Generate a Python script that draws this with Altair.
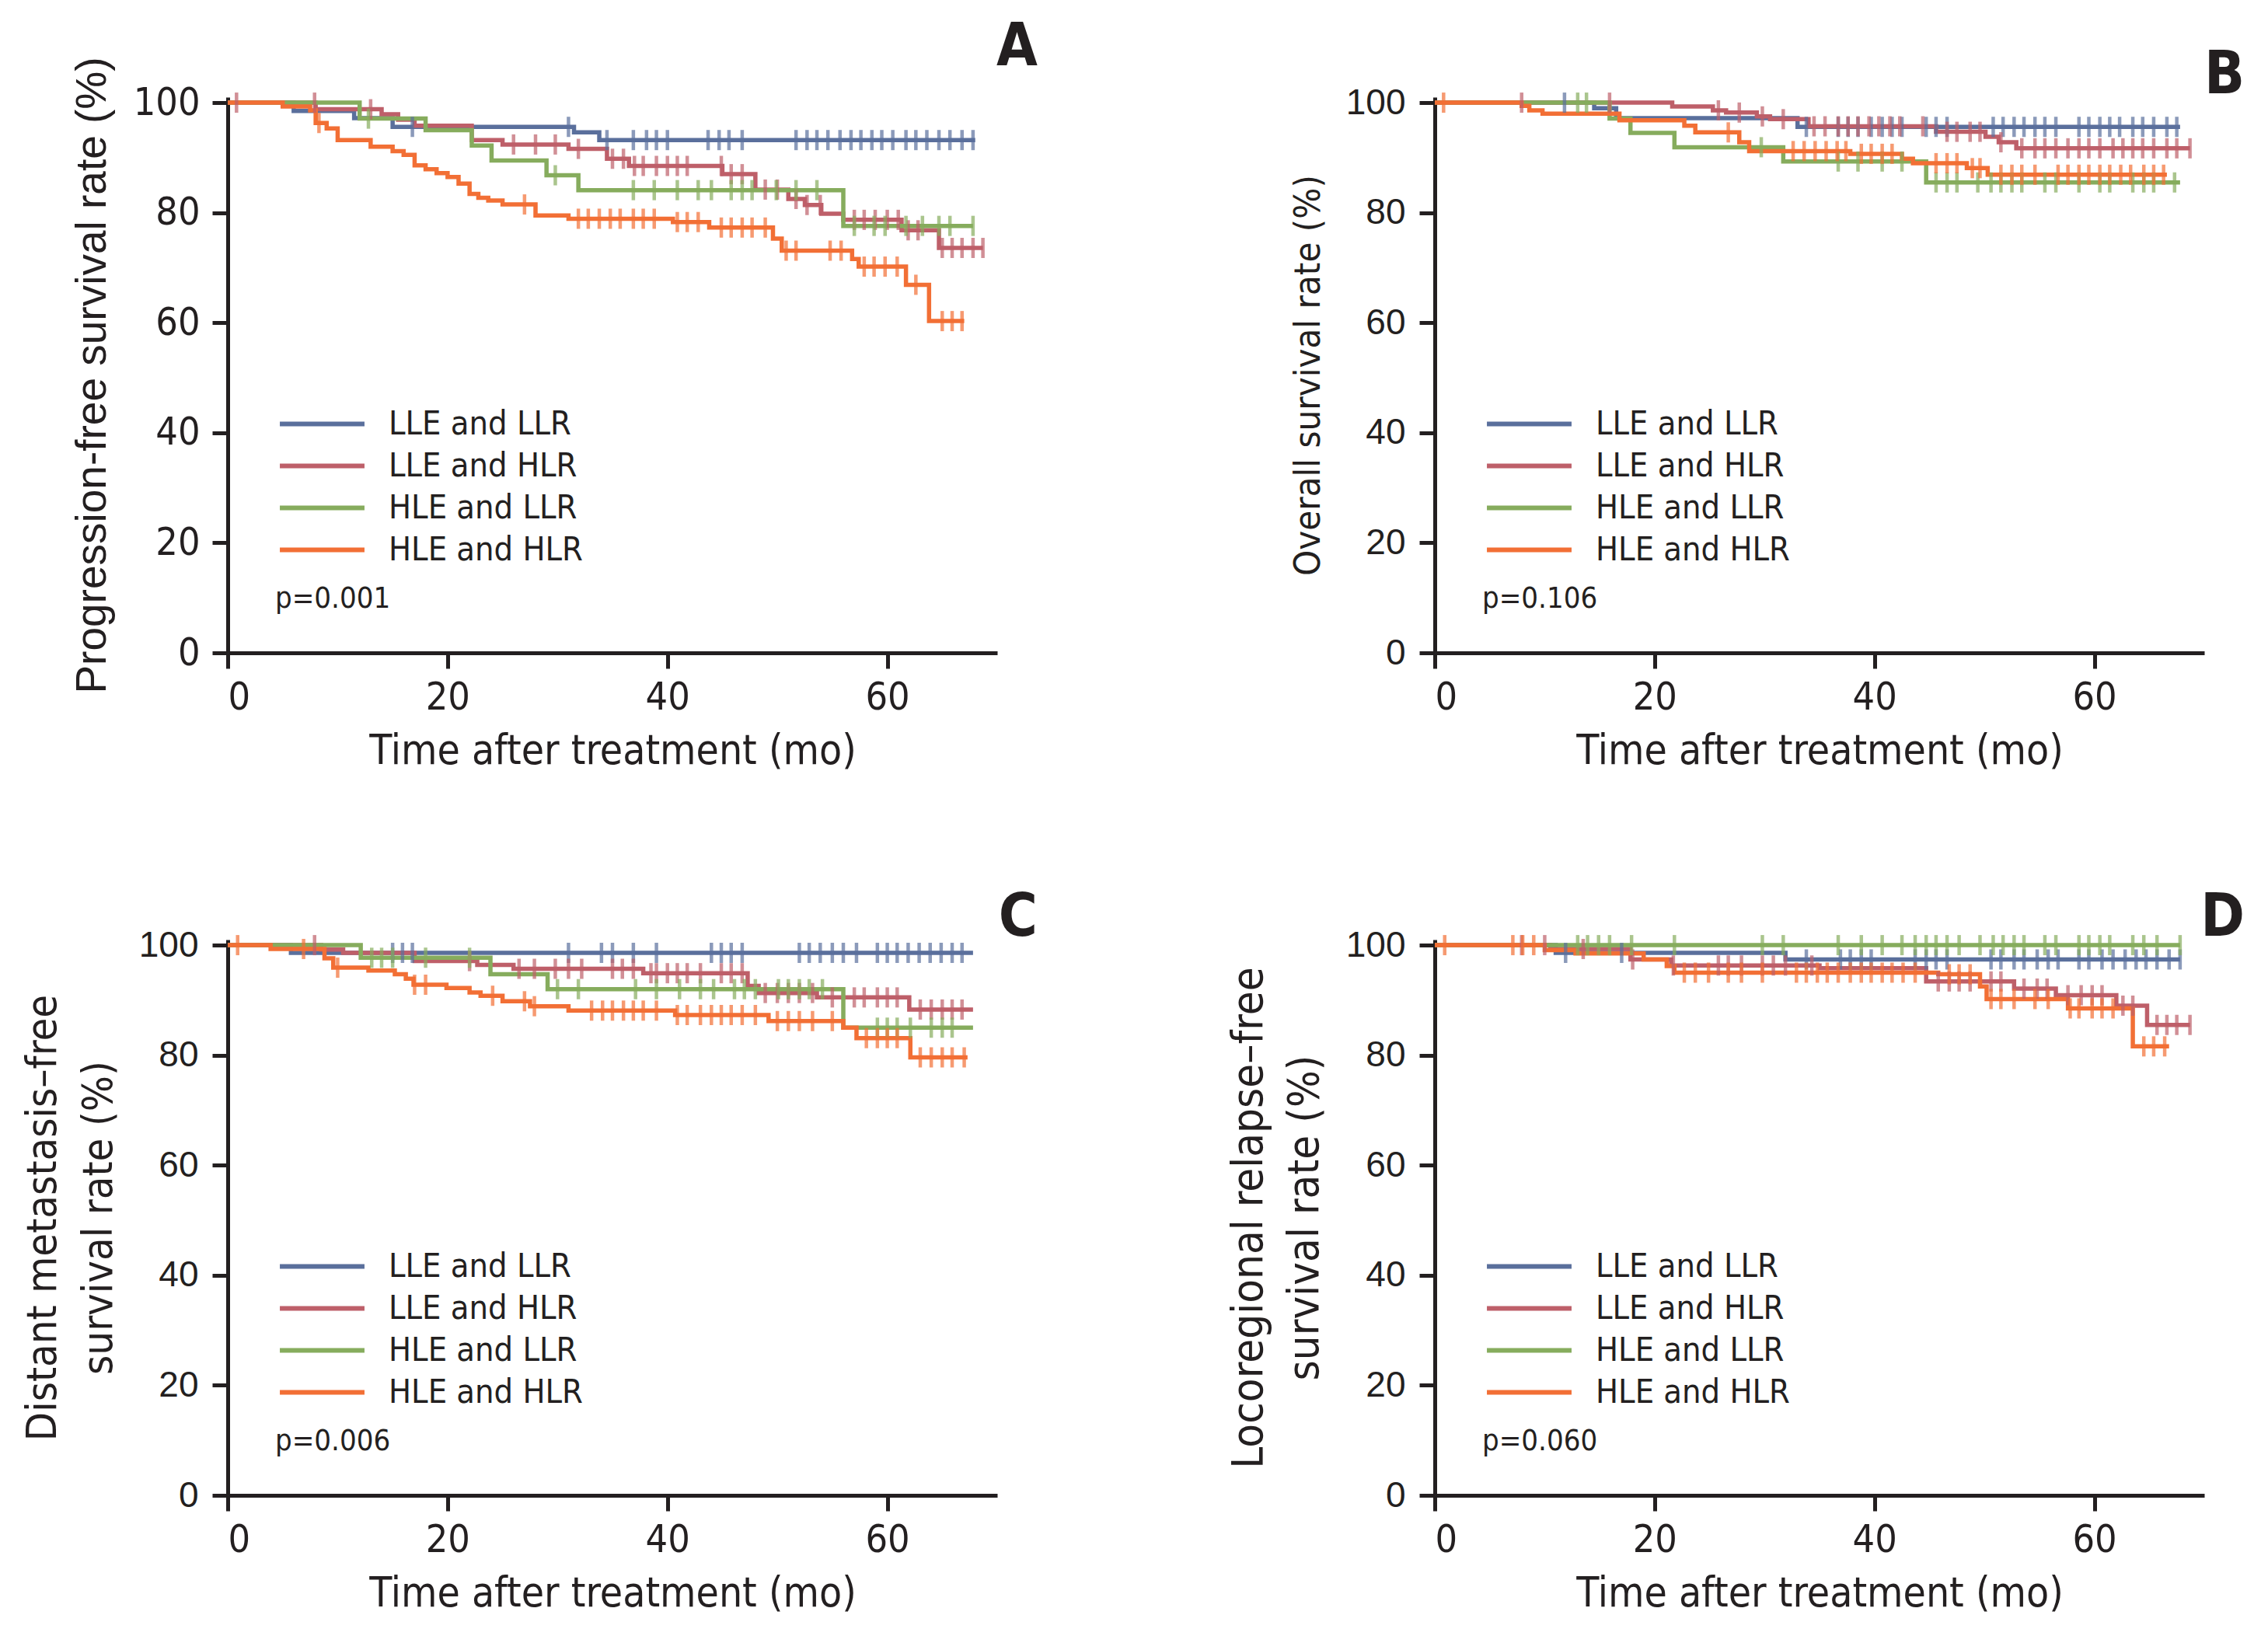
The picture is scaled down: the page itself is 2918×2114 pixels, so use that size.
import altair as alt
import numpy as np
import pandas as pd

GROUPS = ["LLE and LLR", "LLE and HLR", "HLE and LLR", "HLE and HLR"]
COLORS = ["#5A6F9C", "#BE5F69", "#86AC5D", "#F26F35"]

# ---------------- Panel A : progression-free survival ----------------
A_blue_t = [0, 6, 11.5, 15, 31.5, 33.8, 68]
A_blue_s = [100, 98.5, 97.2, 95.6, 94.6, 93.2, 93.2]
A_blue_c = [16.8, 31, 34.5, 36.9, 38.1, 39.0, 40.0, 43.7, 44.7, 45.6, 46.8, 51.7, 52.7, 53.6, 54.6,
            55.7, 56.7, 57.6, 58.6, 59.5, 60.5, 61.7, 62.6, 63.6, 64.7, 65.7, 66.8, 67.8]
A_red_t = [0, 8, 14, 15.5, 17, 22.2, 25, 31, 34.5, 36.5, 45, 48, 51, 52.5, 54, 56, 61.3, 64.7, 68.7]
A_red_s = [100, 98.8, 97.9, 96.9, 95.8, 93.2, 92.4, 91.6, 89.8, 88.5, 87.0, 84.2, 82.5, 81.4, 79.8,
           78.7, 76.8, 73.6, 73.6]
A_red_c = [0.8, 7.9, 13, 26, 28, 29.8, 31.9, 35, 36, 37, 37.8, 39, 40, 40.9, 41.8, 44.9, 45.8, 46.8,
           48.9, 50, 51.7, 52.7, 53.9, 57, 57.9, 58.9, 60, 61, 61.9, 62.8, 65, 65.9, 66.8, 67.8, 68.7]
A_green_t = [0, 12, 18, 22.2, 24, 29, 31.9, 56, 67.8]
A_green_s = [100, 97.1, 95.0, 92.2, 89.5, 86.8, 84.1, 77.6, 77.6]
A_green_c = [12.8, 29.8, 36.9, 38.8, 40.9, 42.8, 44, 45.8, 46.8, 47.7, 49.9, 51.7, 53.6, 57, 58.8,
             59.8, 61.7, 63.2, 64.7, 65.7, 67.8]
A_orange_t = [0, 5, 7.5, 8, 9, 10, 13, 15, 16, 17, 18, 19, 20, 21, 22, 22.8, 23.7, 25, 28, 31, 40.5,
              43.8, 49.6, 50.4, 56.8, 57.4, 61.7, 63.8, 67]
A_orange_s = [100, 99.3, 98.6, 96.3, 95.3, 93.2, 92.0, 91.2, 90.5, 88.6, 87.9, 87.2, 86.5, 85.3, 83.4,
              82.7, 82.2, 81.5, 79.5, 78.9, 78.3, 77.3, 75.3, 73.1, 71.6, 70.2, 66.9, 60.3, 60.3]
A_orange_c = [8.3, 27, 31.9, 32.8, 33.8, 34.8, 35.7, 36.9, 37.8, 38.8, 40.9, 41.8, 42.8, 44.9, 45.8,
              46.8, 47.7, 48.9, 50.8, 51.7, 54.8, 55.8, 57.9, 58.8, 59.8, 60.9, 62.6, 65, 65.9, 66.8]

# ---------------- Panel B : overall survival ----------------
B_blue_t = [0, 14.5, 16.5, 33, 67.8]
B_blue_s = [100, 99.0, 97.2, 95.6, 95.6]
B_blue_c = [11.8, 33.8, 36.7, 37.6, 38.5, 39.7, 40.7, 41.6, 42.5, 44.7, 45.6, 46.6, 50.8, 51.7, 52.7,
            53.6, 54.6, 55.5, 56.5, 58.6, 59.5, 60.5, 61.4, 62.3, 63.5, 64.4, 65.4, 66.6, 67.5]
B_red_t = [0, 21.6, 25.3, 26.5, 29.3, 30.5, 34, 45.6, 50.1, 51.3, 52.9, 68.7]
B_red_s = [100, 99.3, 98.6, 98.2, 97.5, 97.0, 95.7, 94.7, 93.8, 92.8, 91.7, 91.7]
B_red_c = [7.9, 15.9, 25.8, 27.7, 29.8, 31.7, 34.5, 35.5, 36.7, 37.6, 38.5, 39.5, 40.4, 41.4, 42.3,
           44.4, 46.6, 47.5, 48.7, 49.6, 51.5, 53.4, 54.6, 55.5, 56.5, 57.6, 58.6, 59.5, 60.5, 61.7,
           62.6, 63.5, 64.4, 65.4, 66.6, 67.5, 68.7]
B_green_t = [0, 15.9, 17.8, 21.8, 31.7, 44.7, 67.8]
B_green_s = [100, 97.1, 94.5, 91.9, 89.3, 85.5, 85.5]
B_green_c = [13, 13.8, 29.7, 36.7, 38.5, 40.7, 42.5, 45.6, 46.6, 47.5, 49.4, 50.6, 51.5, 52.5, 53.4,
             55.5, 56.5, 58.6, 60.5, 61.4, 63.5, 64.5, 65.4, 67.3]
B_orange_t = [0, 7.9, 8.6, 9.8, 16.8, 22.7, 23.7, 27.7, 28.6, 37.8, 42.5, 43.5, 48.4, 50.3, 66.6]
B_orange_s = [100, 99.4, 98.6, 98.0, 96.8, 95.8, 94.6, 92.8, 91.2, 90.7, 89.8, 89.0, 88.1, 86.9, 86.9]
B_orange_c = [0.8, 26.7, 32.6, 33.6, 34.6, 35.6, 36.6, 37.4, 38.8, 39.7, 40.7, 41.6, 45.6, 46.6, 47.5,
              48.9, 49.6, 51.5, 52.5, 53.4, 54.6, 56.7, 57.6, 58.6, 59.5, 60.5, 61.4, 62.4, 63.3,
              64.5, 65.4, 66.3]

# ---------------- Panel C : distant metastasis-free survival ----------------
C_blue_t = [0, 5.75, 67.8]
C_blue_s = [100, 98.6, 98.6]
C_blue_c = [15, 15.9, 16.8, 31, 34, 35, 36.9, 39, 44, 44.9, 45.8, 46.8, 52, 52.9, 53.9, 55, 56, 57.2,
            59.1, 60, 60.9, 61.9, 62.9, 63.9, 64.9, 65.9, 66.8]
C_red_t = [0, 8.5, 10.5, 17, 22.7, 26, 37.8, 47.3, 48.3, 53.6, 62, 67.8]
C_red_s = [100, 99.2, 98.6, 97.1, 96.4, 95.7, 94.9, 92.6, 91.3, 90.5, 88.3, 88.3]
C_red_c = [7.9, 22, 26.5, 27.9, 29.8, 31, 32.2, 35, 35.9, 36.9, 38.5, 39, 40, 40.9, 41.8, 43, 44.9,
           45.8, 46.8, 48.9, 50, 51, 52, 53.2, 55, 57, 57.9, 59.1, 60, 60.9, 63, 64, 65, 65.9, 66.8]
C_green_t = [0, 12.1, 23.9, 29.1, 56, 67.8]
C_green_s = [100, 97.7, 94.7, 92.0, 85.0, 85.0]
C_green_c = [13.1, 14, 15, 18, 22, 30, 31.9, 37.1, 39, 41.1, 43, 44.2, 46.1, 47, 48, 50.1, 51, 52,
             52.9, 54.1, 59.1, 60, 60.9, 62.1, 64, 65, 65.9]
C_orange_t = [0, 3.9, 8.8, 9.6, 12.8, 15.2, 16.2, 16.9, 19.9, 22, 23, 25, 27.5, 31, 40.7, 49.2, 56,
              57.2, 62.1, 67.3]
C_orange_s = [100, 99.3, 97.6, 95.9, 95.4, 94.7, 93.9, 92.8, 92.2, 91.4, 90.8, 89.8, 88.9, 88.1, 87.3,
              86.2, 85.0, 83.1, 79.6, 79.6]
C_orange_c = [0.9, 6.9, 10, 17, 18, 24.1, 27, 27.9, 33.1, 34.1, 35, 36, 36.9, 37.8, 39, 40.9, 41.8,
              43, 44, 44.9, 45.8, 46.8, 48, 50, 51, 52, 53.2, 55, 58.1, 59.1, 60, 60.9, 63, 64, 65,
              65.9, 67]

# ---------------- Panel D : locoregional relapse-free survival ----------------
D_blue_t = [0, 11, 31.9, 67.8]
D_blue_s = [100, 98.6, 97.4, 97.4]
D_blue_c = [11.9, 17, 33.8, 36.9, 37.8, 38.8, 39.7, 43.7, 44.7, 45.6, 46.6, 50.6, 51.5, 52.7, 53.6,
            54.8, 55.8, 56.7, 58.6, 59.5, 60.7, 61.7, 62.8, 63.8, 64.7, 65.7, 66.8, 67.8]
D_red_t = [0, 10.5, 17.8, 21.5, 35, 44.7, 52.7, 56.5, 62, 64.8, 68.7]
D_red_s = [100, 99.3, 97.4, 96.3, 95.8, 93.4, 92.1, 90.9, 89.0, 85.5, 85.5]
D_red_c = [7.9, 10, 13.5, 18, 21.7, 25.8, 26.7, 27.9, 29.8, 30.8, 31.9, 34.3, 45.8, 46.8, 47.7, 48.7,
           50.6, 51.5, 53.6, 54.8, 55.7, 57.6, 58.8, 59.8, 60.7, 62.6, 63.5, 65.7, 66.6, 67.5, 68.7]
D_green_t = [0, 67.8]
D_green_s = [100, 100]
D_green_c = [13, 13.9, 14.9, 15.9, 17.9, 21.8, 29.8, 31.7, 36.7, 38.8, 40.7, 42.5, 43.7, 44.7, 45.6,
             46.6, 47.7, 49.6, 50.8, 51.7, 52.7, 53.6, 55.5, 56.5, 58.6, 59.5, 60.5, 61.4, 63.5, 64.5,
             65.7, 67.8]
D_orange_t = [0, 10, 12.8, 19, 21.1, 21.8, 45.8, 49.6, 50.2, 57.6, 63.5, 66.8]
D_orange_s = [100, 99.1, 98.5, 97.4, 96.2, 95.0, 94.7, 92.5, 90.2, 88.5, 81.6, 81.6]
D_orange_c = [0.9, 7.1, 8, 9, 22.7, 23.7, 24.9, 26.7, 27.9, 29.8, 32.9, 33.8, 34.8, 35.7, 36.7, 37.8,
              38.8, 39.7, 40.7, 41.6, 42.6, 43.7, 46.8, 47.7, 48.7, 50.6, 51.5, 52.7, 54.6, 55.8,
              57.8, 58.6, 59.8, 60.7, 61.7, 64.5, 65.4, 66.4]

Y_TITLES = {
    "A": "Progression-free survival rate (%)",
    "B": "Overall survival rate (%)",
    "C": ["Distant metastasis\u2013free", "survival rate (%)"],
    "D": ["Locoregional relapse\u2013free", "survival rate (%)"],
}
P_VALUES = {"A": "p=0.001", "B": "p=0.106", "C": "p=0.006", "D": "p=0.060"}
X_TITLE = "Time after treatment (mo)"
X_TICKS = [0, 20, 40, 60]
Y_TICKS = [0, 20, 40, 60, 80, 100]

PANELS = {
    "A": [(A_blue_t, A_blue_s, A_blue_c), (A_red_t, A_red_s, A_red_c),
          (A_green_t, A_green_s, A_green_c), (A_orange_t, A_orange_s, A_orange_c)],
    "B": [(B_blue_t, B_blue_s, B_blue_c), (B_red_t, B_red_s, B_red_c),
          (B_green_t, B_green_s, B_green_c), (B_orange_t, B_orange_s, B_orange_c)],
    "C": [(C_blue_t, C_blue_s, C_blue_c), (C_red_t, C_red_s, C_red_c),
          (C_green_t, C_green_s, C_green_c), (C_orange_t, C_orange_s, C_orange_c)],
    "D": [(D_blue_t, D_blue_s, D_blue_c), (D_red_t, D_red_s, D_red_c),
          (D_green_t, D_green_s, D_green_c), (D_orange_t, D_orange_s, D_orange_c)],
}

COND = "DejaVu Sans Condensed, sans-serif"
WIDE = "Liberation Sans, Arial, Helvetica, sans-serif"
INK = "#231f20"
PW, PH = 990, 715

TITLE_SIZES = {"A": 55, "B": 47, "C": 54, "D": 56}


def panel(letter):
    lines, cens = [], []
    for g, (ts, ss, cs) in zip(GROUPS, PANELS[letter]):
        for t, s in zip(ts, ss):
            lines.append({"t": t, "s": s, "group": g})
        ts_a = np.asarray(ts)
        for c in cs:
            i = int(np.searchsorted(ts_a, c, side="right")) - 1
            cens.append({"t": c, "s": ss[i], "group": g})
    dl = pd.DataFrame(lines)
    dc = pd.DataFrame(cens)

    if letter == "A":
        lab_font, lab_size, lab_pad = COND, 50, 16
        tit_font = WIDE
    else:
        lab_font, lab_size, lab_pad = WIDE, 46, 18
        tit_font = COND

    xenc = alt.X("t:Q", scale=alt.Scale(domain=[0, 70], nice=False),
                 axis=alt.Axis(values=X_TICKS, title=X_TITLE, labelFont=COND, labelFontSize=50,
                               titleFont=COND, titleFontSize=53, labelPadding=12, titlePadding=18,
                               format="d"))
    yenc = alt.Y("s:Q", scale=alt.Scale(domain=[0, 101], nice=False),
                 axis=alt.Axis(values=Y_TICKS, title=Y_TITLES[letter], labelFont=lab_font,
                               labelFontSize=lab_size, labelPadding=lab_pad, titleFont=tit_font,
                               titleFontSize=TITLE_SIZES[letter], titlePadding=24,
                               titleLineHeight=72, format="d"))
    cscale = alt.Scale(domain=GROUPS, range=COLORS)

    line = alt.Chart(dl).mark_line(interpolate="step-after", strokeWidth=5.5).encode(
        x=xenc, y=yenc,
        color=alt.Color("group:N", scale=cscale, sort=GROUPS,
                        legend=alt.Legend(orient="none", legendX=91, legendY=390, title=None,
                                          symbolType="M-1.98,0L1.98,0", symbolSize=3025,
                                          symbolStrokeWidth=6, labelFont=COND, labelFontSize=43,
                                          labelOffset=55, rowPadding=1, padding=0,
                                          labelColor=INK, labelLimit=0)),
    )
    ticks = alt.Chart(dc).mark_tick(orient="vertical", size=26, thickness=4.5).encode(
        x="t:Q", y="s:Q",
        color=alt.Color("group:N", scale=cscale, legend=None),
    )
    ptxt = alt.Chart(pd.DataFrame({"p": [P_VALUES[letter]]})).mark_text(
        align="left", baseline="middle", font=COND, fontSize=38, color=INK
    ).encode(text="p:N", x=alt.value(61), y=alt.value(646))

    return alt.layer(line, ticks, ptxt).properties(
        width=PW, height=PH,
        title=alt.TitleParams(letter, anchor="end", font=COND, fontWeight="bold", fontSize=76,
                              color=INK, dx=52, offset=-27),
    )


chart = alt.concat(panel("A"), panel("B"), panel("C"), panel("D"), columns=2,
                   spacing={"row": 150, "column": 243}).resolve_scale(
    color="independent").resolve_legend(color="independent").properties(
    padding={"left": 20, "top": 14, "right": 0, "bottom": 0}
).configure_view(stroke=None).configure_axis(
    domainColor=INK, domainWidth=5, tickColor=INK, tickWidth=5, tickSize=20, grid=False,
    labelColor=INK, titleColor=INK, titleFontWeight="normal"
)

chart.save("out.html", embed_options={"renderer": "svg", "actions": False})
